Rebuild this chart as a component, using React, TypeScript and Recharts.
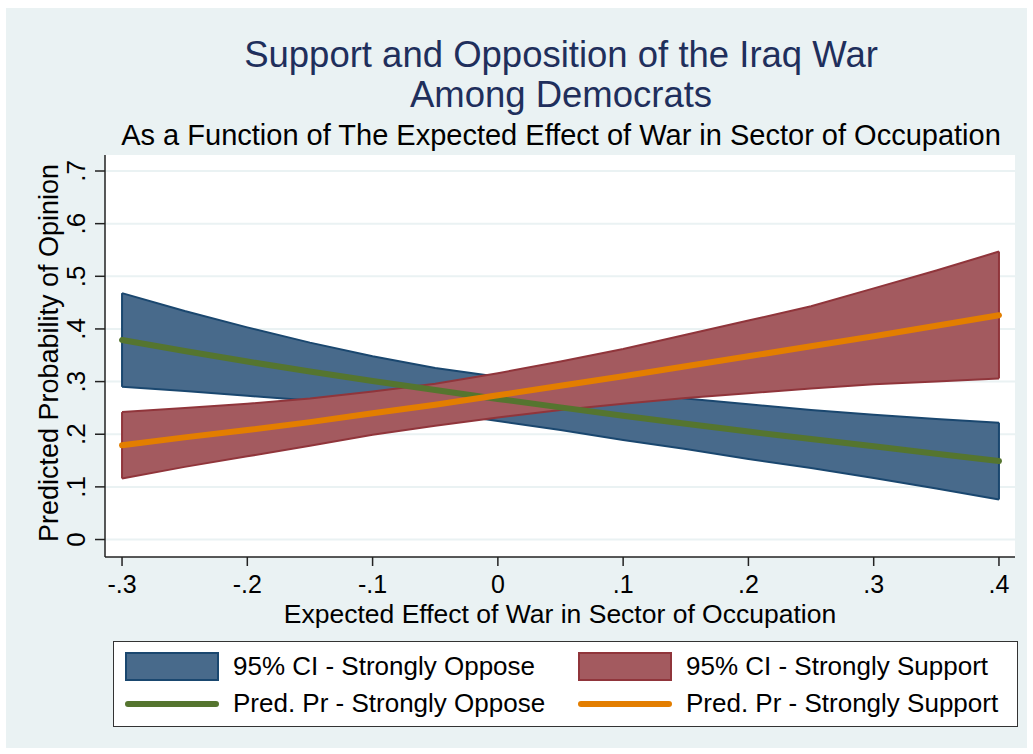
import { ComposedChart, Area, Line, XAxis, YAxis, CartesianGrid, ReferenceLine } from "recharts"

// expected effect of war in sector of occupation
const xValues = [-0.3, -0.25, -0.2, -0.15, -0.1, -0.05, 0, 0.05, 0.1, 0.15, 0.2, 0.25, 0.3, 0.35, 0.4]

// strongly oppose: prediction and 95% CI
const opposePred = [0.379, 0.358, 0.338, 0.319, 0.301, 0.284, 0.267, 0.251, 0.235, 0.22, 0.205, 0.191, 0.177, 0.163, 0.149]
const opposeHigh = [0.468, 0.434, 0.403, 0.374, 0.348, 0.326, 0.309, 0.294, 0.281, 0.268, 0.257, 0.246, 0.237, 0.229, 0.222]
const opposeLow = [0.29, 0.282, 0.273, 0.264, 0.254, 0.242, 0.225, 0.208, 0.189, 0.172, 0.153, 0.136, 0.117, 0.097, 0.076]

// strongly support: prediction and 95% CI
const supportPred = [0.179, 0.194, 0.208, 0.223, 0.24, 0.256, 0.274, 0.292, 0.31, 0.329, 0.348, 0.367, 0.386, 0.406, 0.426]
const supportHigh = [0.242, 0.25, 0.258, 0.268, 0.281, 0.296, 0.316, 0.338, 0.362, 0.389, 0.416, 0.443, 0.477, 0.511, 0.547]
const supportLow = [0.116, 0.138, 0.158, 0.178, 0.199, 0.216, 0.232, 0.246, 0.258, 0.269, 0.278, 0.287, 0.295, 0.3, 0.306]

const xTicks = [-0.3, -0.2, -0.1, 0, 0.1, 0.2, 0.3, 0.4]
const yTicks = [0, 0.1, 0.2, 0.3, 0.4, 0.5, 0.6, 0.7]

const FONT = "'Liberation Sans', Arial, sans-serif"
const BG = "#eaf2f3"
const BLUE_FILL = "#486a8b"
const BLUE_LINE = "#1a476f"
const RED_FILL = "#a35a5f"
const RED_LINE = "#90353b"
const GREEN = "#55752f"
const ORANGE = "#e37e00"

const fmt = (v: number) => {
  if (v === 0) return "0"
  const s = Math.abs(v).toFixed(1).replace(/^0/, "")
  return v < 0 ? "-" + s : s
}

const data = xValues.map((x, i) => ({
  x,
  opposeCI: [opposeLow[i], opposeHigh[i]],
  supportCI: [supportLow[i], supportHigh[i]],
  opposePred: opposePred[i],
  supportPred: supportPred[i],
}))

const last = xValues.length - 1

function YTick(props: any) {
  const { y, payload } = props
  return (
    <text
      x={85}
      y={y}
      transform={`rotate(-90, 85, ${y})`}
      textAnchor="middle"
      fontSize={26}
      fontFamily={FONT}
      fill="#000"
    >
      {fmt(payload.value)}
    </text>
  )
}

function XTick(props: any) {
  const { x, payload } = props
  return (
    <text x={x} y={593} textAnchor="middle" fontSize={25} fontFamily={FONT} fill="#000">
      {fmt(payload.value)}
    </text>
  )
}

function Swatch({ fill, stroke }: { fill: string; stroke: string }) {
  return (
    <div style={{ width: 90, height: 25, background: fill, border: `2px solid ${stroke}` }} />
  )
}

function LineKey({ color }: { color: string }) {
  return <div style={{ width: 94, height: 6, borderRadius: 3, background: color }} />
}

const legendText: React.CSSProperties = { fontSize: 26, lineHeight: "30px", fontFamily: FONT, color: "#000", whiteSpace: "nowrap" }

export default function App() {
  return (
    <div style={{ position: "absolute", left: 0, top: 0, width: 1033, height: 754, background: "#fff" }}>
      <div style={{ position: "absolute", left: 6, top: 8, width: 1021, height: 740, background: BG }} />

      {/* titles */}
      <div style={{ position: "absolute", left: 0, top: 35, width: 1122, textAlign: "center", fontFamily: FONT, fontSize: 36.5, lineHeight: "40px", color: "#1f2f5c" }}>
        Support and Opposition of the Iraq War
        <br />
        Among Democrats
      </div>
      <div style={{ position: "absolute", left: 0, top: 120, width: 1122, textAlign: "center", fontFamily: FONT, fontSize: 29, lineHeight: "30px", color: "#000" }}>
        As a Function of The Expected Effect of War in Sector of Occupation
      </div>

      <div style={{ position: "absolute", left: 0, top: 0 }}>
        <ComposedChart width={1033} height={754} data={data} margin={{ top: 155, right: 18, bottom: 137, left: 45 }}>
          <CartesianGrid horizontal vertical={false} fill="#fff" stroke={BG} strokeWidth={2} horizontalValues={yTicks} />
          <XAxis
            type="number"
            dataKey="x"
            domain={[-0.3136, 0.4128]}
            ticks={xTicks}
            allowDataOverflow
            height={60}
            tick={<XTick />}
            tickSize={9}
            axisLine={{ stroke: "#222", strokeWidth: 1.5 }}
            tickLine={{ stroke: "#222", strokeWidth: 1.5 }}
          />
          <YAxis
            type="number"
            domain={[-0.0332, 0.7304]}
            ticks={yTicks}
            allowDataOverflow
            width={60}
            tick={<YTick />}
            tickSize={10}
            axisLine={{ stroke: "#222", strokeWidth: 1.5 }}
            tickLine={{ stroke: "#222", strokeWidth: 1.5 }}
          />
          <Area
            type="linear"
            dataKey="opposeCI"
            fill={BLUE_FILL}
            fillOpacity={1}
            stroke={BLUE_LINE}
            strokeWidth={2}
            isAnimationActive={false}
          />
          <ReferenceLine segment={[{ x: xValues[0], y: opposeLow[0] }, { x: xValues[0], y: opposeHigh[0] }]} stroke={BLUE_LINE} strokeWidth={2} />
          <ReferenceLine segment={[{ x: xValues[last], y: opposeLow[last] }, { x: xValues[last], y: opposeHigh[last] }]} stroke={BLUE_LINE} strokeWidth={2} />
          <Area
            type="linear"
            dataKey="supportCI"
            fill={RED_FILL}
            fillOpacity={1}
            stroke={RED_LINE}
            strokeWidth={2}
            isAnimationActive={false}
          />
          <ReferenceLine segment={[{ x: xValues[0], y: supportLow[0] }, { x: xValues[0], y: supportHigh[0] }]} stroke={RED_LINE} strokeWidth={2} />
          <ReferenceLine segment={[{ x: xValues[last], y: supportLow[last] }, { x: xValues[last], y: supportHigh[last] }]} stroke={RED_LINE} strokeWidth={2} />
          <Line type="linear" dataKey="opposePred" stroke={GREEN} strokeWidth={6} strokeLinecap="round" dot={false} isAnimationActive={false} />
          <Line type="linear" dataKey="supportPred" stroke={ORANGE} strokeWidth={6} strokeLinecap="round" dot={false} isAnimationActive={false} />
        </ComposedChart>
      </div>

      {/* axis titles */}
      <svg style={{ position: "absolute", left: 0, top: 0, pointerEvents: "none" }} width={1033} height={754}>
        <text x={58} y={353} transform="rotate(-90, 58, 353)" textAnchor="middle" fontSize={27} fontFamily={FONT} fill="#000">
          Predicted Probability of Opinion
        </text>
        <text x={560} y={623} textAnchor="middle" fontSize={26.5} fontFamily={FONT} fill="#000">
          Expected Effect of War in Sector of Occupation
        </text>
      </svg>

      {/* legend */}
      <div style={{ position: "absolute", left: 113, top: 641, width: 905, height: 86, background: "#fff", border: "1px solid #333", boxSizing: "border-box" }}>
        <div style={{ position: "absolute", left: 11, top: 10 }}><Swatch fill={BLUE_FILL} stroke={BLUE_LINE} /></div>
        <div style={{ position: "absolute", left: 119, top: 9, ...legendText }}>95% CI - Strongly Oppose</div>
        <div style={{ position: "absolute", left: 464, top: 10 }}><Swatch fill={RED_FILL} stroke={RED_LINE} /></div>
        <div style={{ position: "absolute", left: 572, top: 9, ...legendText }}>95% CI - Strongly Support</div>
        <div style={{ position: "absolute", left: 11, top: 59 }}><LineKey color={GREEN} /></div>
        <div style={{ position: "absolute", left: 119, top: 46, ...legendText }}>Pred. Pr - Strongly Oppose</div>
        <div style={{ position: "absolute", left: 464, top: 59 }}><LineKey color={ORANGE} /></div>
        <div style={{ position: "absolute", left: 572, top: 46, ...legendText }}>Pred. Pr - Strongly Support</div>
      </div>
    </div>
  )
}
